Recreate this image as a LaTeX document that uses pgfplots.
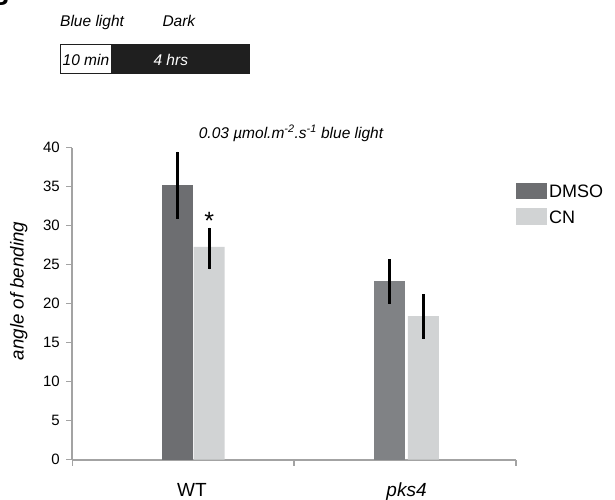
\documentclass[border=0pt]{standalone}
\usepackage{fontspec}
\setmainfont{Liberation Sans}
\usepackage{pgfplots}
\pgfplotsset{compat=1.18}
\definecolor{dmsoA}{HTML}{6D6E71}
\definecolor{dmsoB}{HTML}{808285}
\definecolor{cn}{HTML}{D1D3D4}
\definecolor{axgray}{HTML}{A3A3A3}
\newcommand{\fs}[1]{\fontsize{#1}{#1}\selectfont}
\begin{document}
\begin{tikzpicture}
\useasboundingbox (0pt,0pt) rectangle (615pt,499pt);
% panel letter (cropped)
\node[anchor=south east,inner sep=0pt,font=\fs{26}\bfseries] at (9pt,493.5pt) {B};
% protocol bar
\node[anchor=base west,inner sep=0pt,font=\fs{15.5}\itshape] at (60pt,472.3pt) {Blue light};
\node[anchor=base west,inner sep=0pt,font=\fs{15.5}\itshape] at (162.3pt,472.3pt) {Dark};
\fill[black!88] (111.7pt,424.7pt) rectangle (250pt,455pt);
\draw[black!88,line width=1pt] (60.5pt,425.2pt) rectangle (111.7pt,454.5pt);
\node[anchor=base west,inner sep=0pt,font=\fs{15.5}\itshape] at (62.5pt,433.3pt) {10 min};
\node[anchor=base,inner sep=0pt,font=\fs{15.5}\itshape,text=white] at (170.8pt,433.3pt) {4 hrs};
% title
\node[anchor=base,inner sep=0pt,font=\fs{15.5}\itshape] at (291pt,361pt) {0.03 µmol.m\textsuperscript{-2}.s\textsuperscript{-1} blue light};
\begin{axis}[
  at={(72.3pt,39.3pt)}, anchor=south west,
  scale only axis, width=443.7pt, height=312pt,
  xmin=0, xmax=2, ymin=0, ymax=40,
  clip=false,
  axis lines*=left,
  axis line style={axgray, line width=2pt},
  xtick={0,1,2}, xticklabels={},
  ytick={0,5,...,40},
  tick align=outside,
  major tick length=6pt,
  tick style={axgray, line width=1.5pt},
  yticklabel style={font=\fs{15}, xshift=-3pt},
  /pgf/number format/assume math mode=true,
  ybar, bar width=31pt, bar shift=0pt,
  error bars/error mark=none,
  error bars/error bar style={line width=3pt, black},
]
\addplot[draw=none, fill=dmsoA, error bars/.cd, y dir=both, y explicit]
  coordinates {(0.473,35.2) += (0,4.3) -= (0,4.35)};
\addplot[draw=none, fill=dmsoB, error bars/.cd, y dir=both, y explicit]
  coordinates {(1.429,22.9) += (0,2.8) -= (0,2.95)};
\addplot[draw=none, fill=cn, error bars/.cd, y dir=both, y explicit]
  coordinates {(0.617,27.3) += (0,2.45) -= (0,2.9) (1.582,18.4) += (0,2.8) -= (0,2.95)};
\node[anchor=north,inner sep=0pt,font=\fs{25}] at (axis cs:0.617,31.7) {*};
\end{axis}
% y label
\node[anchor=base,inner sep=0pt,rotate=90,font=\fs{18.7}\itshape] at (23.6pt,208pt) {angle of bending};
% category labels
\node[anchor=base,inner sep=0pt,font=\fs{19}] at (192pt,3pt) {WT};
\node[anchor=base,inner sep=0pt,font=\fs{19}\itshape] at (406.5pt,3pt) {pks4};
% legend
\fill[dmsoA] (516pt,299.7pt) rectangle (546.7pt,316.3pt);
\fill[cn] (516pt,273.7pt) rectangle (546.7pt,291pt);
\node[anchor=base west,inner sep=0pt,font=\fs{18}] at (549pt,301.7pt) {DMSO};
\node[anchor=base west,inner sep=0pt,font=\fs{18}] at (549pt,275.7pt) {CN};
\end{tikzpicture}
\end{document}
